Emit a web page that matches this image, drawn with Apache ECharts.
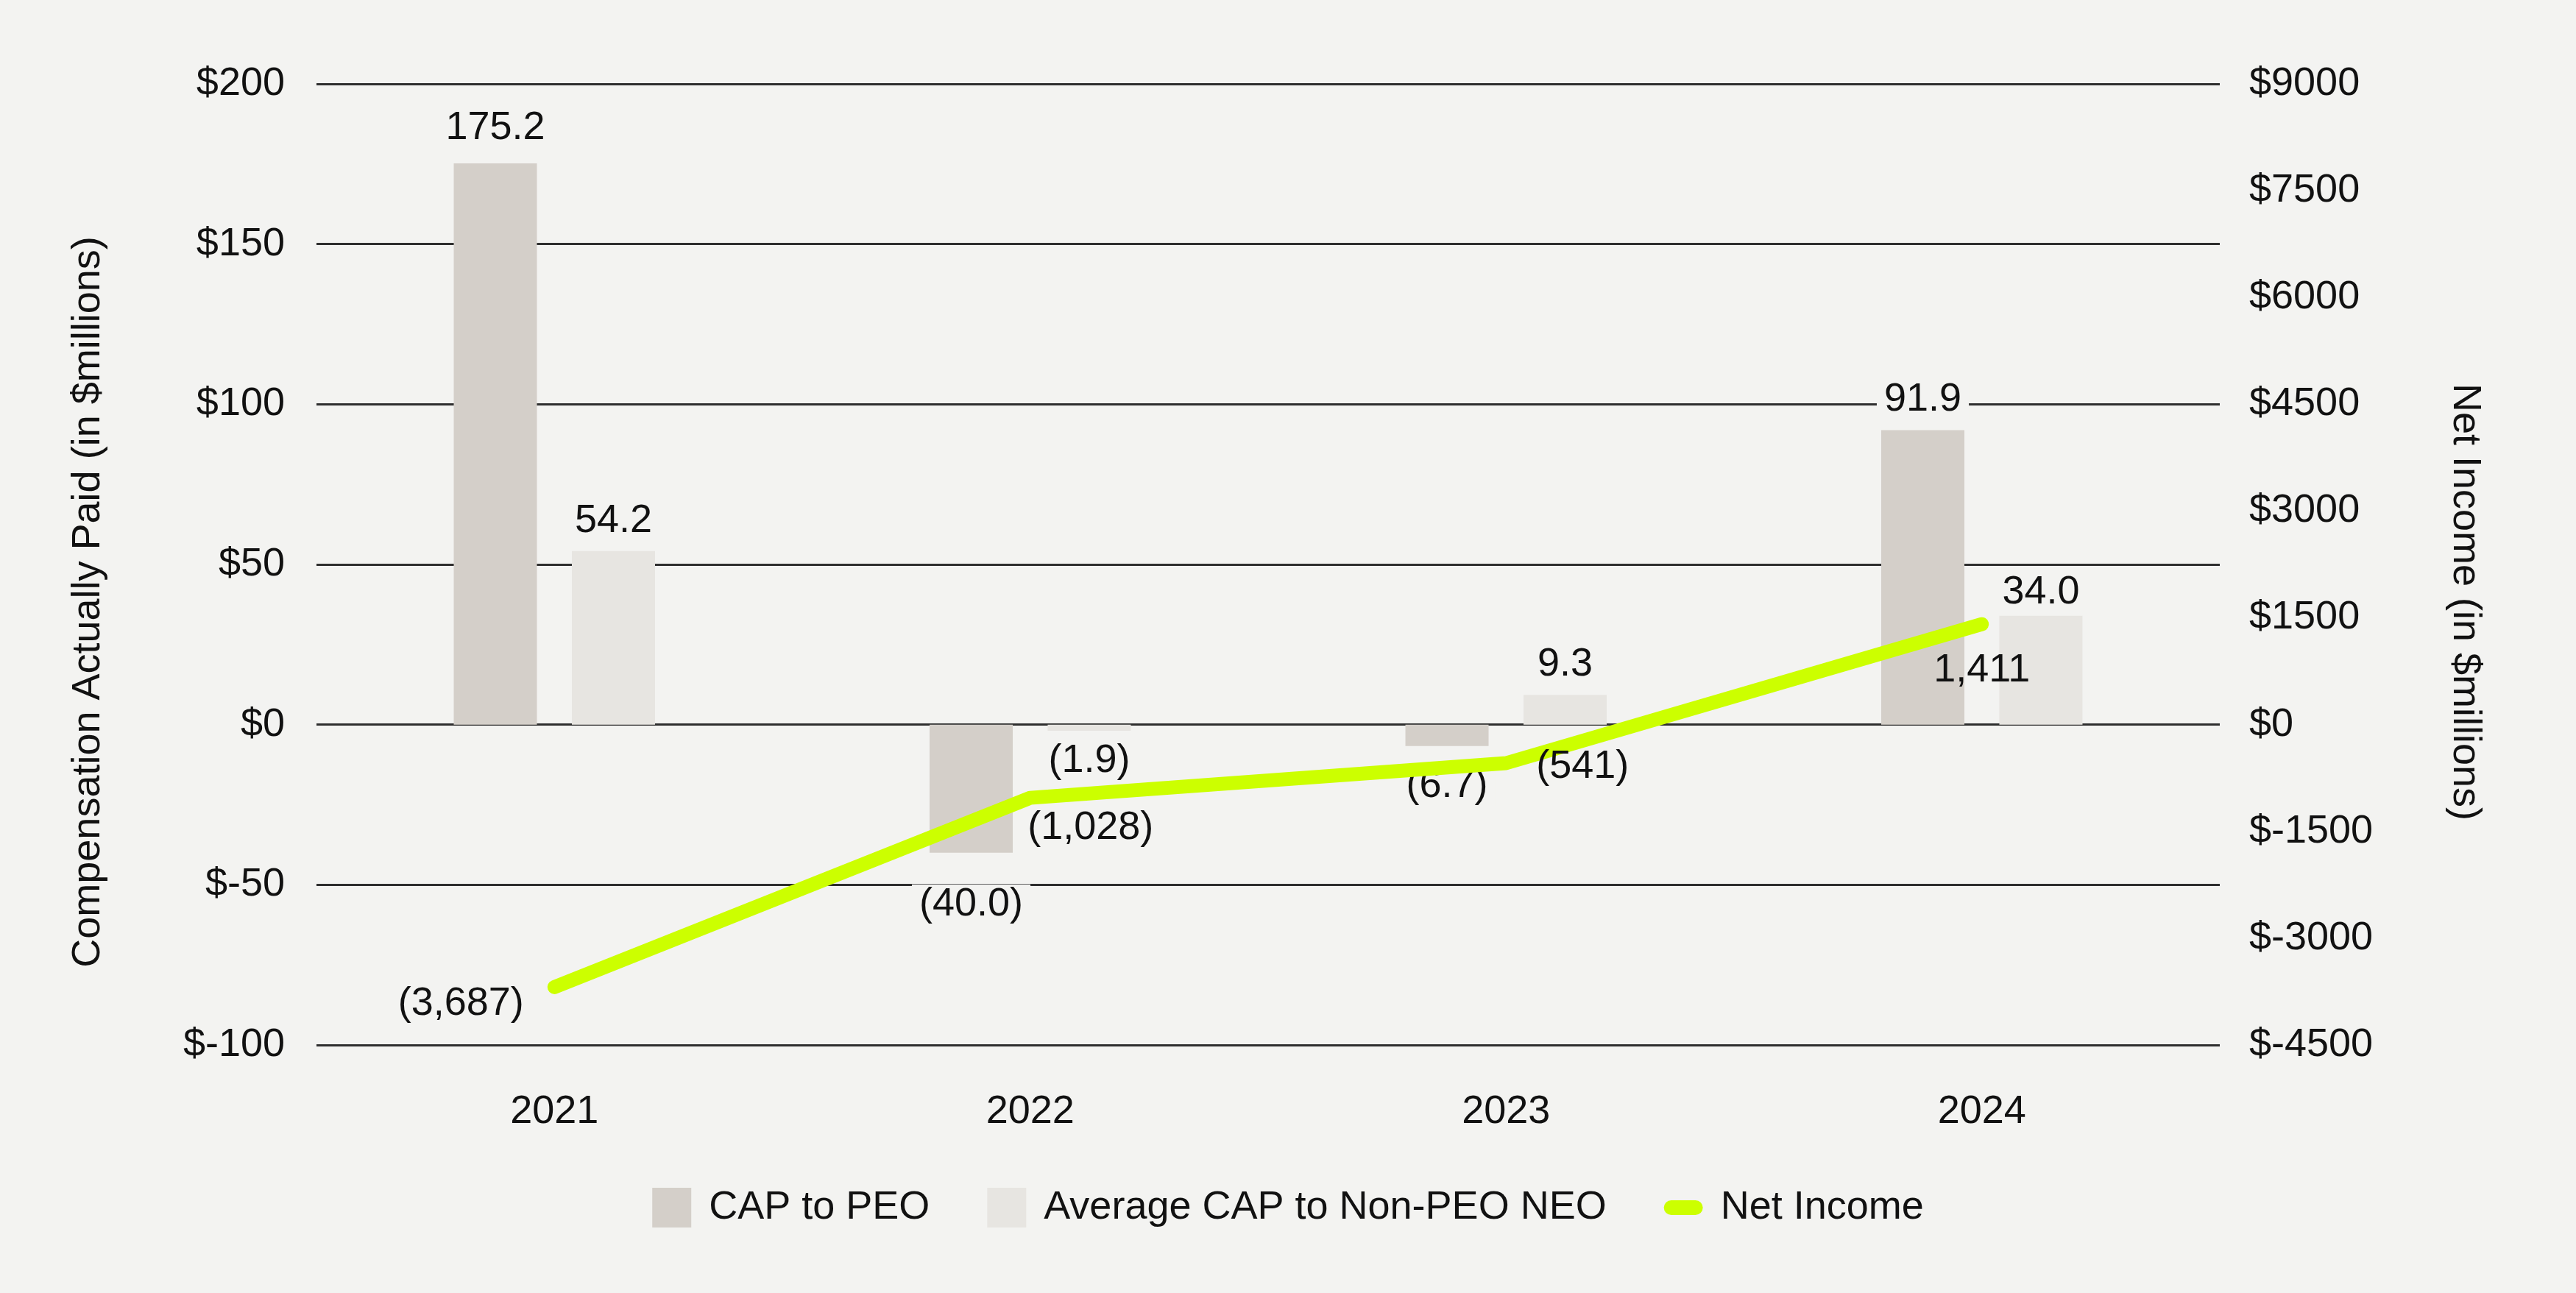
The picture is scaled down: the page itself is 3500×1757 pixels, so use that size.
<!DOCTYPE html>
<html>
<head>
<meta charset="utf-8">
<script src="https://cdn.jsdelivr.net/npm/echarts@6/dist/echarts.min.js"></script>
<style>
  html, body { margin: 0; padding: 0; background: #f3f3f1; }
  #chart { width: 3500px; height: 1757px; }
</style>
</head>
<body>
<div id="chart"></div>
<script>
// ---- data ----
const years = ['2021', '2022', '2023', '2024'];
const capToPEO = [175.2, -40.0, -6.7, 91.9];
const avgCapNonPEO = [54.2, -1.9, 9.3, 34.0];
const netIncome = [-3687, -1028, -541, 1411];
const seriesNames = ['CAP to PEO', 'Average CAP to Non-PEO NEO', 'Net Income'];
const leftAxisTitle = 'Compensation Actually Paid (in $millions)';
const rightAxisTitle = 'Net Income (in $millions)';

// label offsets (style, not data)
const netLabelOffsets = [[-127, 23], [82, 41], [104, 5], [0, 63]];
const peoLabelOffsets = [[0, -7], [0, 29], [0, 13], [0, 0]];
const neoLabelOffsets = [[0, 0], [0, 0], [0, 0], [0, 9]];

const FONT = '"Liberation Sans", Arial, Helvetica, sans-serif';
const BG = '#f3f3f1';
const TXT = '#111111';

function barFmt(v) {
  return v < 0 ? '(' + Math.abs(v).toFixed(1) + ')' : v.toFixed(1);
}
function commas(n) {
  return String(Math.round(Math.abs(n))).replace(/\B(?=(\d{3})+(?!\d))/g, ',');
}
function netFmt(v) {
  return v < 0 ? '(' + commas(v) + ')' : commas(v);
}

function barData(arr, offs) {
  return arr.map((v, i) => ({
    value: v,
    label: { position: v < 0 ? 'bottom' : 'top', offset: offs[i] }
  }));
}

const chart = echarts.init(document.getElementById('chart'), null, { renderer: 'canvas' });

const barLabel = {
  show: true,
  distance: 14,
  fontFamily: FONT, fontSize: 54, color: TXT,
  backgroundColor: BG, padding: [0, 10],
  formatter: p => barFmt(p.value)
};

const option = {
  backgroundColor: BG,
  animation: false,
  textStyle: { fontFamily: FONT, color: TXT },
  grid: { left: 430, right: 484, top: 114, bottom: 337, containLabel: false },
  legend: {
    left: 'center',
    top: 1609,
    itemWidth: 53,
    itemHeight: 54,
    itemGap: 78,
    textStyle: { fontFamily: FONT, fontSize: 54, color: TXT, padding: [0, 0, 0, 19] },
    data: [
      { name: seriesNames[0], icon: 'rect' },
      { name: seriesNames[1], icon: 'rect' },
      { name: seriesNames[2], icon: 'path://M10,0H43A10,10 0 0 1 43,20H10A10,10 0 0 1 10,0Z' }
    ]
  },
  xAxis: {
    type: 'category',
    data: years,
    axisLine: { show: false },
    axisTick: { show: false },
    axisLabel: { fontFamily: FONT, fontSize: 54, color: TXT, margin: 64 }
  },
  yAxis: [
    {
      type: 'value',
      min: -100, max: 200, interval: 50,
      name: leftAxisTitle,
      nameLocation: 'middle',
      nameRotate: 90,
      nameGap: 283,
      nameTextStyle: { fontFamily: FONT, fontSize: 54, color: TXT, padding: [0, 102, 0, 0] },
      axisLine: { show: false },
      axisTick: { show: false },
      axisLabel: { fontFamily: FONT, fontSize: 54, color: TXT, margin: 43, formatter: v => '$' + v },
      splitLine: { show: true, lineStyle: { color: '#2e2e2e', width: 3 } }
    },
    {
      type: 'value',
      min: -4500, max: 9000, interval: 1500,
      name: rightAxisTitle,
      nameLocation: 'middle',
      nameRotate: -90,
      nameGap: 306,
      nameTextStyle: { fontFamily: FONT, fontSize: 54, color: TXT, padding: [0, 0, 0, 102] },
      axisLine: { show: false },
      axisTick: { show: false },
      axisLabel: { fontFamily: FONT, fontSize: 54, color: TXT, margin: 40, formatter: v => '$' + v },
      splitLine: { show: false }
    }
  ],
  series: [
    {
      name: seriesNames[0],
      type: 'bar',
      yAxisIndex: 0,
      data: barData(capToPEO, peoLabelOffsets),
      barWidth: 113,
      barGap: '42%',
      itemStyle: { color: '#d4cfc9' },
      label: barLabel,
      z: 2
    },
    {
      name: seriesNames[1],
      type: 'bar',
      yAxisIndex: 0,
      data: barData(avgCapNonPEO, neoLabelOffsets),
      barWidth: 113,
      itemStyle: { color: '#e7e5e1' },
      label: barLabel,
      z: 2
    },
    {
      name: seriesNames[2],
      type: 'line',
      yAxisIndex: 1,
      data: netIncome.map((v, i) => ({
        value: v,
        label: { offset: netLabelOffsets[i] }
      })),
      symbol: 'circle',
      symbolSize: 2,
      showSymbol: true,
      itemStyle: { color: '#ccff00' },
      lineStyle: { color: '#ccff00', width: 19, cap: 'round', join: 'round' },
      label: {
        show: true,
        position: 'inside',
        fontFamily: FONT, fontSize: 54, color: TXT,
        formatter: p => netFmt(p.value)
      },
      z: 5
    }
  ]
};

chart.setOption(option);
</script>
</body>
</html>
